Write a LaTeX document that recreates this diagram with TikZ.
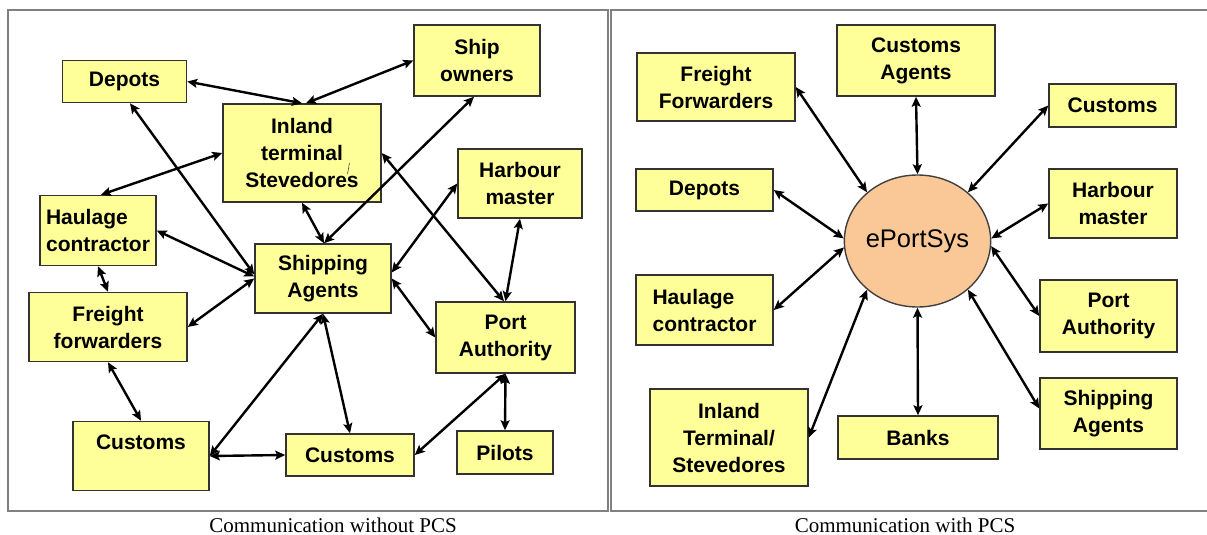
\documentclass[tikz,border=0pt]{standalone}
\usepackage{fontspec}
\setmainfont{Liberation Serif}
\newfontfamily\boxfont{Liberation Sans}
\usetikzlibrary{arrows.meta,shapes.geometric,calc}
\definecolor{boxyellow}{RGB}{255,255,153}
\definecolor{peach}{RGB}{250,200,150}
\begin{document}
\begin{tikzpicture}[x=1pt,y=-1pt,
  box/.style={draw=black!80,line width=1.5pt,fill=boxyellow,inner sep=0pt,align=center,
    font=\boxfont\fontsize{21}{27}\selectfont\bfseries},
  arr/.style={line width=2.4pt,{Stealth[length=10pt,width=9pt,inset=2pt]}-{Stealth[length=10pt,width=9pt,inset=2pt]}},
  panel/.style={draw=black!50,line width=1.5pt},
  captext/.style={font=\fontsize{21}{25}\selectfont,inner sep=0pt,anchor=base}]
\useasboundingbox (0,0) rectangle (1207,535);
\fill[white] (0,0) rectangle (1207,535);

% panels
\draw[panel] (8,10) rectangle (608,511);
\draw[panel] (1207,10) -- (611,10) -- (611,511) -- (1207,511);

% captions
\node[captext] (capL) at (333,532) {Communication without PCS};
\node[captext] (capR) at (905,532) {Communication with PCS};

% ---------- left panel ----------
\node[box,minimum width=124pt,minimum height=42pt] (dep) at (124.5,81.5) {Depots};
\node[box,minimum width=126pt,minimum height=71pt] (ship) at (477,60.5) {Ship\\owners};
\node[box,minimum width=158pt,minimum height=98pt] (inl) at (302,153) {Inland\\terminal\\Stevedores};
\node[box,minimum width=124pt,minimum height=69pt] (harb) at (520,183.5) {Harbour\\master};
\node[box,minimum width=116pt,minimum height=70pt,align=left] (haul) at (98,230.5) {Haulage\\contractor};
\node[box,minimum width=136pt,minimum height=69pt] (shipag) at (323,278.5) {Shipping\\Agents};
\node[box,minimum width=158pt,minimum height=69pt] (ff) at (108,327) {Freight\\forwarders};
\node[box,minimum width=139pt,minimum height=71pt] (pa) at (505.5,337.5) {Port\\Authority};
\node[box,minimum width=136pt,minimum height=69pt] (cusL) at (141,456) {Customs\\\mbox{}};
\node[box,minimum width=128pt,minimum height=42pt] (cusM) at (350,455) {Customs};
\node[box,minimum width=96pt,minimum height=43pt] (pil) at (505,452.5) {Pilots};
\draw[line width=0.6pt,black!70] (349.5,163) -- (347.5,174);

\draw[arr] (dep.east) -- (inl.north);
\draw[arr] (ship.west) -- ([xshift=4pt]inl.north);
\draw[arr] ([xshift=-3pt]ship.south) -- ([xshift=1pt]shipag.north);
\draw[arr] ([xshift=5.5pt]dep.south) -- ([yshift=4pt]shipag.west);
\draw[arr] (inl.west) -- ([xshift=3pt]haul.north);
\draw[arr] (inl.east) -- ([xshift=-1.5pt]pa.north);
\draw[arr] (inl.south) -- ([xshift=1pt]shipag.north);
\draw[arr] (haul.east) -- ([yshift=2pt]shipag.west);
\draw[arr] (haul.south) -- (ff.north);
\draw[arr] (ff.east) -- (shipag.west);
\draw[arr] (harb.west) -- ([yshift=6pt]shipag.east);
\draw[arr] (harb.south) -- (pa.north);
\draw[arr] (shipag.east) -- (pa.west);
\draw[arr] (ff.south) -- (cusL.north);
\draw[arr] (shipag.south) -- (cusL.east);
\draw[arr] (shipag.south) -- (cusM.north);
\draw[arr] (cusL.east) -- (cusM.west);
\draw[arr] (pa.south) -- (cusM.east);
\draw[arr] (pa.south) -- (pil.north);

% ---------- right panel ----------
\node[box,minimum width=158pt,minimum height=68pt] (rff) at (716,87) {Freight\\Forwarders};
\node[box,minimum width=158pt,minimum height=71pt] (rca) at (916,60.5) {Customs\\Agents};
\node[box,minimum width=127pt,minimum height=43pt] (rcus) at (1112.5,105.5) {Customs};
\node[box,minimum width=137pt,minimum height=42pt] (rdep) at (704.5,190) {Depots};
\node[box,minimum width=128pt,minimum height=69pt] (rharb) at (1113,203.5) {Harbour\\master};
\node[box,minimum width=137pt,minimum height=70pt,align=left] (rhaul) at (704.5,310) {Haulage\\contractor};
\node[box,minimum width=137pt,minimum height=72pt] (rpa) at (1108.5,316) {Port\\Authority};
\node[box,minimum width=158pt,minimum height=97pt] (rinl) at (729,437.5) {Inland\\Terminal/\\Stevedores};
\node[box,minimum width=160pt,minimum height=43pt] (rbank) at (918,437.5) {Banks};
\node[box,minimum width=137pt,minimum height=71pt] (rsa) at (1108.5,413.5) {Shipping\\Agents};
\node[ellipse,draw=black!75,line width=1.4pt,fill=peach,minimum width=139pt,minimum height=132pt,inner sep=0pt,
  font=\boxfont\fontsize{25.5}{30}\selectfont] (eps) at (917.5,241) {ePortSys};

\draw[arr] (rff.east) -- (eps.136);
\draw[arr] (rca.south) -- (eps.north);
\draw[arr] (rcus.west) -- (eps.44);
\draw[arr] (rdep.east) -- (eps.178);
\draw[arr] (rhaul.east) -- (eps.185);
\draw[arr] (rharb.west) -- (eps.2);
\draw[arr] (rpa.west) -- (eps.-4);
\draw[arr] (rinl.east) -- (eps.224);
\draw[arr] (rbank.north) -- (eps.south);
\draw[arr] ([yshift=5pt]rsa.west) -- (eps.-44);
\end{tikzpicture}
\end{document}
